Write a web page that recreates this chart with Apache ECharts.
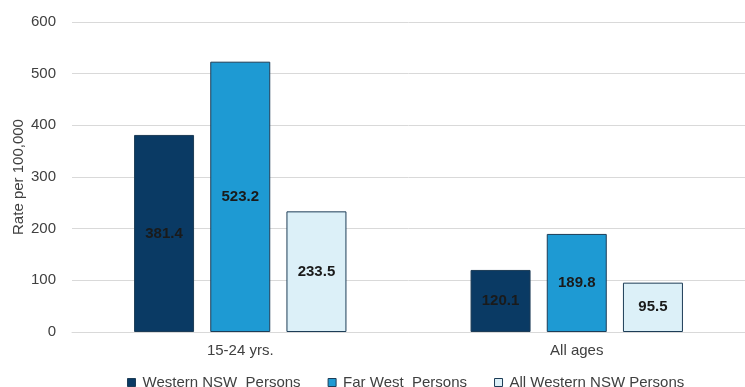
<!DOCTYPE html>
<html>
<head>
<meta charset="utf-8">
<script src="https://cdn.jsdelivr.net/npm/echarts@6/dist/echarts.min.js"></script>
<style>
  html, body { margin: 0; padding: 0; background: #fff; }
  #chart { width: 745px; height: 387px; }
</style>
</head>
<body>
<div id="chart"></div>
<script>
// Age groups on the category axis
const categories = ['15-24 yrs.', 'All ages'];
// Rates per 100,000 for each area
const westernNSW = [381.4, 120.1];
const farWest = [523.2, 189.8];
const allWesternNSW = [233.5, 95.5];
const seriesNames = ['Western NSW  Persons', 'Far West  Persons', 'All Western NSW Persons'];
const yTicks = { min: 0, max: 600, interval: 100 };

const FONT = 'Liberation Sans, Arial, sans-serif';
const colors = ['#0a3a64', '#1e9ad3', '#dcf0f8'];
const labelStyle = {
  show: true,
  position: 'inside',
  fontFamily: FONT,
  fontWeight: 'bold',
  fontSize: 15,
  color: '#1a1a1a'
};

function makeSeries(name, data, color) {
  return {
    name: name,
    type: 'bar',
    data: data,
    barWidth: 60,
    barGap: '27%',
    itemStyle: { color: color, borderColor: '#1d3d57', borderWidth: 1 },
    label: labelStyle
  };
}

const chart = echarts.init(document.getElementById('chart'));
chart.setOption({
  animation: false,
  textStyle: { fontFamily: FONT },
  grid: { left: 72, right: 0, top: 22, bottom: 55, outerBoundsMode: 'none' },
  legend: {
    bottom: -8,
    left: 122,
    itemWidth: 12,
    itemHeight: 8,
    itemGap: 27,
    icon: 'path://M0,0H8V8H0Z',
    textStyle: { fontSize: 15, color: '#404040', fontFamily: FONT },
    data: seriesNames.map(function (n) {
      return { name: n, itemStyle: { borderColor: '#1d3d57', borderWidth: 1 } };
    })
  },
  xAxis: {
    type: 'category',
    data: categories,
    axisLine: { lineStyle: { color: '#d9d9d9' } },
    axisTick: { show: false },
    axisLabel: { fontSize: 15, color: '#404040', margin: 11 }
  },
  yAxis: {
    type: 'value',
    min: yTicks.min,
    max: yTicks.max,
    interval: yTicks.interval,
    name: 'Rate per 100,000',
    nameLocation: 'middle',
    nameGap: 46,
    nameMoveOverlap: false,
    nameTextStyle: { fontSize: 15, color: '#404040' },
    axisLine: { show: false },
    axisTick: { show: false },
    axisLabel: { fontSize: 15, color: '#404040', margin: 16 },
    splitLine: { lineStyle: { color: '#d9d9d9' } }
  },
  series: [
    makeSeries(seriesNames[0], westernNSW, colors[0]),
    makeSeries(seriesNames[1], farWest, colors[1]),
    makeSeries(seriesNames[2], allWesternNSW, colors[2])
  ]
});
</script>
</body>
</html>
